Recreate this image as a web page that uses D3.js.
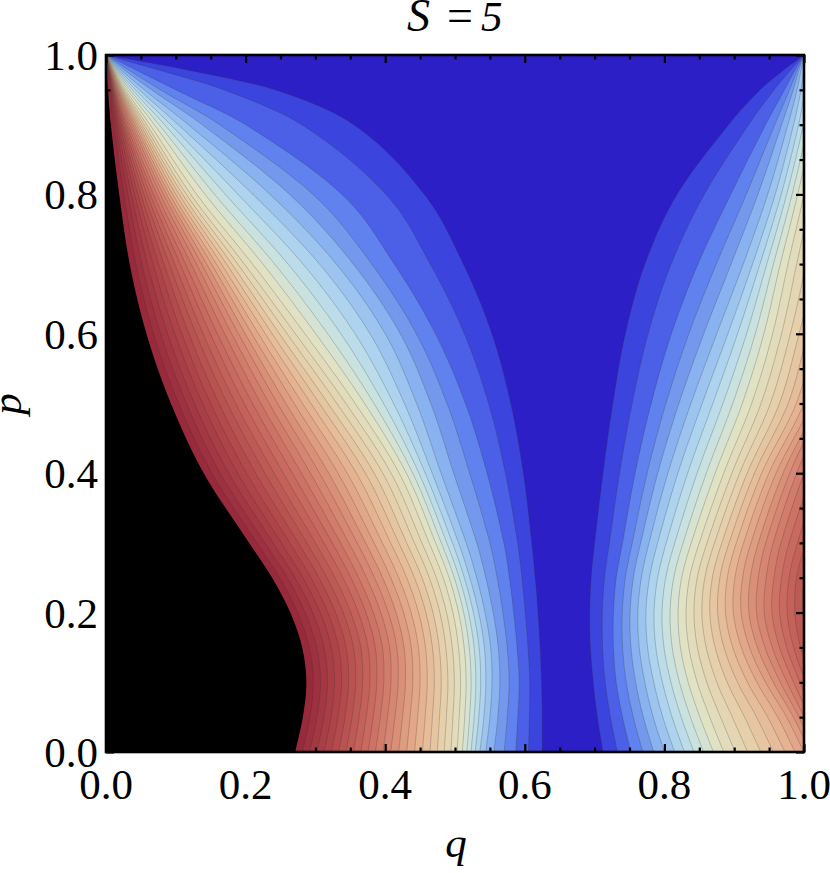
<!DOCTYPE html>
<html><head><meta charset="utf-8">
<script src="https://cdn.jsdelivr.net/npm/d3@7"></script>
<style>html,body{margin:0;background:#fff}svg{display:block}text{font-family:"Liberation Serif",serif;fill:#000}</style>
</head><body><svg id="c" width="830" height="873"></svg>
<script>
// Contour positions (q) at these p rows.
const pRows = [0,.05,.1,.15,.2,.25,.3,.4,.5,.6,.7,.8,.9,.95,.98,1];
const bandCount = 33;
// Left family: contour index -> q per row
const left33 = [.271,.282,.287,.281,.264,.238,.205,.14,.093,.058,.034,.019,.007,.003,.001,0];
const left22 = [.386,.393,.398,.396,.383,.362,.336,.28,.222,.17,.122,.073,.032,.014,.005,0];
const left11 = [.503,.506,.508,.505,.497,.483,.463,.42,.357,.285,.21,.13,.063,.028,.011,0];
const left5  = [.544,.55,.553,.551,.543,.531,.516,.48,.445,.40,.33,.235,.118,.055,.02,0];
const left2  = [.587,.59,.592,.589,.584,.578,.57,.546,.515,.472,.413,.338,.2,.10,.04,0];
const left0  = [.625,.625,.624,.622,.619,.615,.61,.598,.58,.553,.512,.456,.355,.243,.11,0];
// Right family (values above 1 lie past the frame)
const right0  = [.712,.704,.698,.694,.693,.695,.70,.712,.726,.744,.772,.818,.892,.937,.973,1];
const right2  = [.752,.74,.731,.727,.727,.731,.74,.758,.781,.81,.848,.895,.945,.972,.988,1];
const right5  = [.80,.784,.772,.764,.762,.767,.778,.805,.838,.875,.913,.948,.977,.99,.996,1];
const right11 = [.885,.865,.847,.835,.831,.836,.85,.885,.925,.955,.977,1.0,1.02,1.025,1.025,1.025];
const right18 = [1.0,.975,.945,.922,.91,.912,.924,.96,1.01,1.04,1.07,1.08,1.08,1.08,1.08,1.08];
const right22 = [1.03,1.008,.985,.965,.954,.957,.967,1.0,1.04,1.08,1.11,1.12,1.12,1.12,1.12,1.12];
const right26 = [1.07,1.04,1.02,1.005,.998,1.0,1.015,1.05,1.09,1.13,1.16,1.16,1.16,1.16,1.16,1.16];
// Band colours: band index and colour
const colorBands = [0,1,2,3,4,5,6,7,8,9,10,11,14,17,20,24,28,33];
const colorHex = ["#2c1fc6","#3b44dd","#4b60e6","#5f82ee","#7499ec","#88b2f0","#9dc4ee","#aed3ee","#bbdce8","#c9e2e0","#d6e3d2","#e1e2c4","#e6d0ab","#e6b391","#da9078","#c9695f","#b34b4c","#982a3c"];
const majorTicks = [0,.2,.4,.6,.8,1];
const minorTicks = [.05,.1,.15,.25,.3,.35,.45,.5,.55,.65,.7,.75,.85,.9,.95];

const L = 106, R = 804, T = 55, B = 752;
const x = d3.scaleLinear([0,1],[L,R]);
const y = d3.scaleLinear([0,1],[B,T]);
const color = d3.scaleLinear(colorBands,colorHex).clamp(true);
const svg = d3.select("#c");

function hermite(xs,ys,ms,t){
  let i = d3.bisectRight(xs,t)-1;
  i = Math.max(0,Math.min(xs.length-2,i));
  const h = xs[i+1]-xs[i], s = (t-xs[i])/h;
  const s2=s*s,s3=s2*s;
  return (2*s3-3*s2+1)*ys[i]+(s3-2*s2+s)*h*ms[i]+(-2*s3+3*s2)*ys[i+1]+(s3-s2)*h*ms[i+1];
}
function catmull(xs,ys){
  const ms = xs.map((_,i)=>{const a=Math.max(0,i-1),b=Math.min(xs.length-1,i+1);return (ys[b]-ys[a])/(xs[b]-xs[a]);});
  return t=>hermite(xs,ys,ms,t);
}
function monotone(xs,ys){
  const n=xs.length,d=[];
  for(let i=0;i<n-1;i++)d.push((ys[i+1]-ys[i])/(xs[i+1]-xs[i]));
  const ms=new Array(n);ms[0]=d[0];ms[n-1]=d[n-2];
  for(let i=1;i<n-1;i++)ms[i]=d[i-1]*d[i]<=0?0:2*d[i-1]*d[i]/(d[i-1]+d[i]);
  return t=>{ if(t<=xs[0])return ys[0]; if(t>=xs[n-1])return ys[n-1]; return hermite(xs,ys,ms,t); };
}
const curves = [
  [left33,33],[left22,22],[left11,11],[left5,5],[left2,2],[left0,0],
  [right0,0],[right2,2],[right5,5],[right11,11],[right18,18],[right22,22],[right26,26]
].map(([qs,k])=>({f:catmull(pRows,qs),z:k/bandCount}));

const n = 560;
const grid = new Float64Array(n*n);
for(let j=0;j<n;j++){
  const p = j/(n-1);
  let qs = curves.map(c=>Math.max(c.f(p),0)), zs = curves.map(c=>c.z);
  for(let i=1;i<qs.length;i++) if(qs[i]<=qs[i-1]) qs[i]=qs[i-1]+1e-5;
  const q0L=qs[5], q0R=qs[6];
  const X=[qs[0]-.02,...qs.slice(0,6),q0L+.02,q0R-.02,...qs.slice(6)];
  const Z=[1.06,...zs.slice(0,6),-.03,-.03,...zs.slice(6)];
  for(let i=1;i<X.length;i++) if(X[i]<=X[i-1]) X[i]=X[i-1]+1e-5;
  const f = monotone(X,Z);
  for(let i=0;i<n;i++) grid[j*n+i]=f(i/(n-1));
}
const thresholds = d3.range(0,bandCount+1).map(k=>k/bandCount);
const contours = d3.contours().size([n,n]).smooth(true).thresholds(thresholds)(grid);
const path = d3.geoPath(d3.geoTransform({point(a,b){this.stream.point(x((a-.5)/(n-1)),y((b-.5)/(n-1)));}}));

svg.append("clipPath").attr("id","plot").append("rect").attr("x",L).attr("y",T).attr("width",R-L).attr("height",B-T);
const g = svg.append("g").attr("clip-path","url(#plot)");
g.append("rect").attr("x",L).attr("y",T).attr("width",R-L).attr("height",B-T).attr("fill",color(0));
g.selectAll("path.b").data(contours).join("path").attr("class","b")
  .attr("d",path)
  .attr("fill",(d,i)=>i===bandCount?"#000":color(i+1))
  .attr("stroke",(d,i)=>i===bandCount?"none":"rgba(50,50,50,.28)")
  .attr("stroke-width",.9);

// frame and ticks
svg.append("rect").attr("x",L).attr("y",T).attr("width",R-L).attr("height",B-T).attr("fill","none").attr("stroke","#000").attr("stroke-width",2.6);
const axis = (gen,scale,vals,size,tr)=>{
  const s = svg.append("g").attr("transform",tr).call(gen(scale).tickValues(vals).tickSize(size).tickFormat(""));
  s.select(".domain").remove();
  s.selectAll("line").attr("stroke","#000").attr("stroke-width",2.2);
};
[[d3.axisBottom,x,B],[d3.axisTop,x,T]].forEach(([a,s,v])=>{
  axis(a,s,majorTicks,-8,`translate(0,${v})`);axis(a,s,minorTicks,-4.5,`translate(0,${v})`);});
[[d3.axisLeft,y,L],[d3.axisRight,y,R]].forEach(([a,s,v])=>{
  axis(a,s,majorTicks,-8,`translate(${v},0)`);axis(a,s,minorTicks,-4.5,`translate(${v},0)`);});

const fmt = d3.format(".1f"), fs = 43;
svg.append("g").selectAll("text").data(majorTicks).join("text").text(fmt)
  .attr("x",d=>x(d)).attr("y",799).attr("text-anchor","middle").attr("font-size",fs);
svg.append("g").selectAll("text").data(majorTicks).join("text").text(fmt)
  .attr("x",98).attr("y",d=>y(d)+15).attr("text-anchor","end").attr("font-size",fs);

svg.append("text").text("q").attr("x",456).attr("y",857).attr("text-anchor","middle").attr("font-style","italic").attr("font-size",fs);
svg.append("text").text("p").attr("transform","translate(21,404) rotate(-90)").attr("text-anchor","middle").attr("font-style","italic").attr("font-size",fs);
const title = svg.append("text").attr("y",31).attr("font-size",46);
title.append("tspan").attr("x",407).attr("font-style","italic").text("S");
title.append("tspan").attr("x",447).text("=");
title.append("tspan").attr("x",481).attr("font-style","italic").attr("font-size",43).text("5");
</script></body></html>
